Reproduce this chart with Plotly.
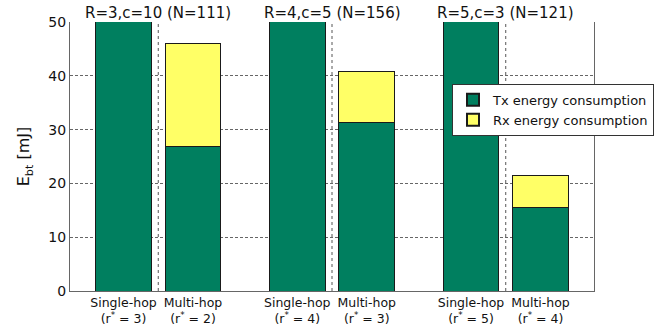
import plotly.graph_objects as go

# ---- data ----
positions = [1, 2, 3.5, 4.5, 6, 7]
tick_labels = [
    "Single-hop<br>(r<sup>*</sup> = 3)", "Multi-hop<br>(r<sup>*</sup> = 2)",
    "Single-hop<br>(r<sup>*</sup> = 4)", "Multi-hop<br>(r<sup>*</sup> = 3)",
    "Single-hop<br>(r<sup>*</sup> = 5)", "Multi-hop<br>(r<sup>*</sup> = 4)",
]
tx_energy = [62.0, 26.8, 75.0, 31.3, 90.0, 15.6]
rx_energy = [0.0, 19.2, 0.0, 9.5, 0.0, 5.8]
group_titles = ["R=3,c=10 (N=111)", "R=4,c=5 (N=156)", "R=5,c=3 (N=121)"]
group_centers = [(positions[2 * i] + positions[2 * i + 1]) / 2 for i in range(3)]

GREEN = "#007f5f"
YELLOW = "#ffff66"
FONT = "DejaVu Sans"

fig = go.Figure()
fig.add_trace(go.Bar(x=positions, y=tx_energy, name="Tx energy consumption",
                     marker=dict(color=GREEN, line=dict(color="#1a1a1a", width=1)),
                     width=0.8))
fig.add_trace(go.Bar(x=positions, y=rx_energy, name="Rx energy consumption",
                     marker=dict(color=YELLOW, line=dict(color="#1a1a1a", width=1)),
                     width=0.8))

for gc in group_centers:
    fig.add_shape(type="line", xref="x", yref="paper", x0=gc, x1=gc, y0=0, y1=1,
                  line=dict(color="#555555", width=1, dash="dot"), layer="below")

for gc, t in zip(group_centers, group_titles):
    fig.add_annotation(x=gc, y=1.0, xref="x", yref="paper", text=t, showarrow=False,
                       yanchor="bottom", yshift=-2, font=dict(family=FONT, size=15, color="#111"))

fig.update_layout(
    barmode="stack",
    width=664, height=325,
    margin=dict(l=70, r=70, t=22, b=34, autoexpand=False),
    paper_bgcolor="white", plot_bgcolor="white",
    font=dict(family=FONT, size=12, color="#111"),
    showlegend=True,
    legend=dict(x=0.729, y=0.77, xanchor="left", yanchor="top",
                bordercolor="#333", borderwidth=1, bgcolor="white",
                font=dict(family=FONT, size=13), tracegroupgap=0,
                traceorder="normal", itemsizing="constant"),
    xaxis=dict(range=[0.23, 7.77], tickvals=positions, ticktext=tick_labels,
               showgrid=False, showline=True, linecolor="#666", linewidth=1,
               mirror=False, ticks="", tickfont=dict(family=FONT, size=12.5),
               zeroline=False, automargin=False),
    yaxis=dict(range=[0, 50], tickvals=[0, 10, 20, 30, 40, 50],
               showgrid=True, gridcolor="#666", griddash="3px,2px", gridwidth=1,
               showline=True, linecolor="#666", linewidth=1, mirror=True,
               ticks="", tickfont=dict(family=FONT, size=14), zeroline=False,
               automargin=False,
               title=dict(text="E<sub>bt</sub> [mJ]", font=dict(family=FONT, size=16), standoff=14)),
)

# remove the browser's default page margin so the figure fills the window
fig.write_html("out.html", config={"displayModeBar": False},
               post_script="document.body.style.margin='0';")
